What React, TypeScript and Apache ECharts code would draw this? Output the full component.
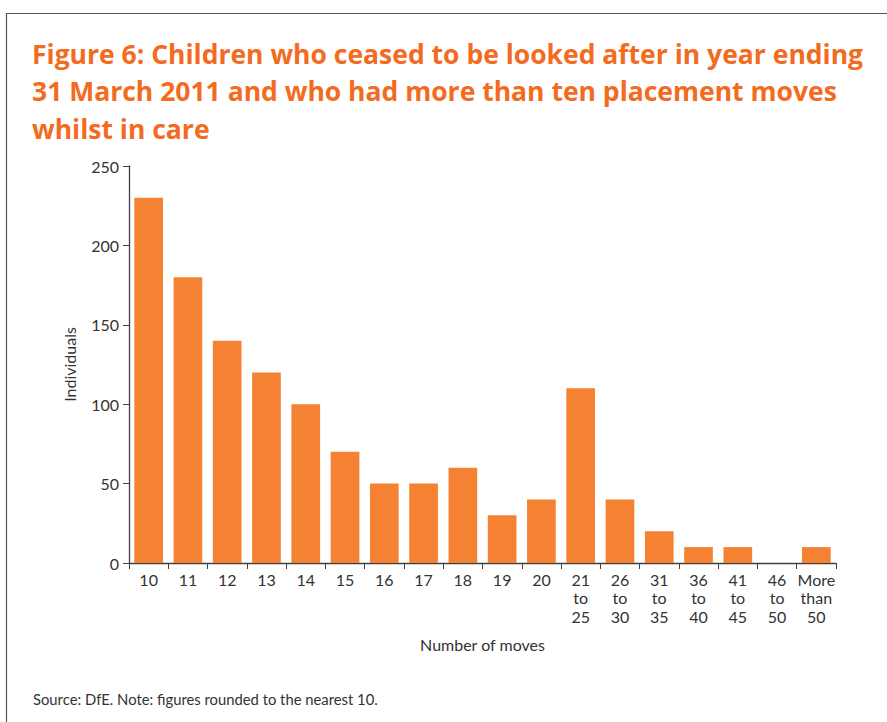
import React, { useEffect, useRef } from "react";
import * as echarts from "echarts";

const categories = ["10", "11", "12", "13", "14", "15", "16", "17", "18", "19", "20", "21\nto\n25", "26\nto\n30", "31\nto\n35", "36\nto\n40", "41\nto\n45", "46\nto\n50", "More\nthan\n50"];
const individuals = [230, 180, 140, 120, 100, 70, 50, 50, 60, 30, 40, 110, 40, 20, 10, 10, 0, 10];
const yTicks = [0, 50, 100, 150, 200, 250];

const titleLines = [
  "Figure 6: Children who ceased to be looked after in year ending",
  "31 March 2011 and who had more than ten placement moves",
  "whilst in care",
];
const sourceNote = "Source: DfE. Note: figures rounded to the nearest 10.";

const FONT = "Lato, 'Open Sans', sans-serif";
const TITLE_FONT = "'Open Sans', Lato, sans-serif";

export default function App() {
  const ref = useRef<HTMLDivElement>(null);
  useEffect(() => {
    const chart = echarts.init(ref.current!, null, { renderer: "svg" });
    chart.setOption({
      animation: false,
      backgroundColor: "#ffffff",
      grid: { left: 129, right: 51, top: 166, bottom: 159, containLabel: false },
      graphic: [
        {
          type: "rect",
          shape: { x: 6.5, y: 13.5, width: 1000, height: 1000 },
          style: { fill: "none", stroke: "#555555", lineWidth: 1.2 },
          silent: true,
        },
        {
          type: "text",
          left: 32,
          top: 35,
          style: {
            text: titleLines.join("\n"),
            font: `bold 26.5px ${TITLE_FONT}`,
            fill: "#F26B21",
            lineHeight: 37.5,
          },
        },
        {
          type: "text",
          left: 33,
          top: 691,
          style: { text: sourceNote, font: `14.8px ${FONT}`, fill: "#333333" },
        },
      ],
      xAxis: {
        type: "category",
        data: categories,
        name: "Number of moves",
        nameLocation: "middle",
        nameGap: 73,
        nameTextStyle: { fontFamily: FONT, fontSize: 16, color: "#333333" },
        axisLine: { lineStyle: { color: "#404040", width: 1.3 } },
        axisTick: { show: true, alignWithLabel: false, length: 6, lineStyle: { color: "#404040" } },
        axisLabel: {
          interval: 0,
          fontFamily: FONT,
          fontSize: 16,
          color: "#333333",
          lineHeight: 18.5,
          margin: 7,
        },
      },
      yAxis: {
        type: "value",
        min: 0,
        max: 250,
        interval: 50,
        name: "Individuals",
        nameLocation: "middle",
        nameGap: 52,
        nameRotate: 90,
        nameTextStyle: { fontFamily: FONT, fontSize: 16, color: "#333333" },
        splitLine: { show: false },
        axisLine: { show: true, lineStyle: { color: "#404040", width: 1.3 } },
        axisTick: { show: true, length: 6, lineStyle: { color: "#404040" } },
        axisLabel: {
          fontFamily: FONT,
          fontSize: 16,
          color: "#333333",
          margin: 10,
          formatter: (v: number) => (yTicks.includes(v) ? String(v) : ""),
        },
      },
      series: [
        {
          type: "bar",
          data: individuals,
          barCategoryGap: "27%",
          itemStyle: { color: "#F58232" },
        },
      ],
    });
    return () => chart.dispose();
  }, []);
  return <div ref={ref} style={{ position: "fixed", left: 0, top: 0, width: 887, height: 722 }} />;
}
